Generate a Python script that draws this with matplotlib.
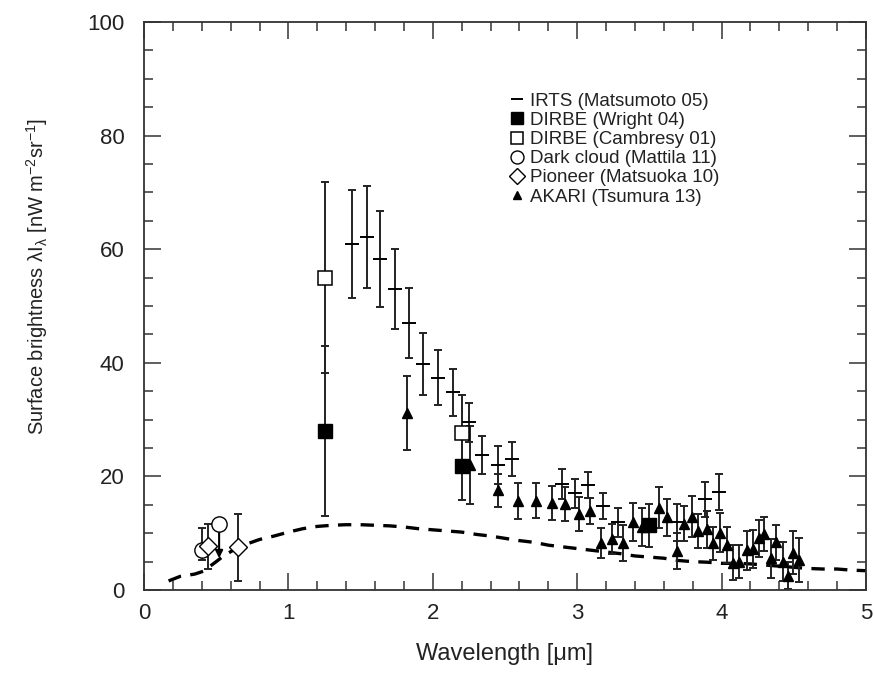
import numpy as np
import matplotlib
matplotlib.use("Agg")
import matplotlib.pyplot as plt

plt.rcParams['font.family'] = ['Liberation Sans', 'DejaVu Sans']
plt.rcParams['mathtext.fontset'] = 'custom'
plt.rcParams['mathtext.rm'] = 'Liberation Sans'
plt.rcParams['mathtext.default'] = 'regular'

# model curve (dashed)
model_wl = [0.17, 0.25, 0.35, 0.41, 0.50, 0.55, 0.65, 0.70, 0.80, 0.90, 1.0, 1.1, 1.2, 1.3,
            1.4, 1.5, 1.6, 1.7, 1.8, 1.9, 2.0, 2.1, 2.2, 2.3, 2.4, 2.5, 2.6, 2.7, 2.8,
            2.9, 3.0, 3.1, 3.2, 3.3, 3.4, 3.5, 3.6, 3.7, 3.8, 3.9, 4.0, 4.1, 4.2, 4.3,
            4.4, 4.5, 4.6, 4.7, 4.8, 4.9, 5.0]
model_val = [1.6, 2.4, 2.8, 3.3, 5.0, 6.0, 7.5, 8.0, 8.9, 9.5, 10.2, 10.8, 11.2, 11.4,
             11.5, 11.5, 11.4, 11.3, 11.1, 10.8, 10.6, 10.4, 10.2, 9.8, 9.5, 9.1, 8.7, 8.4, 7.9,
             7.6, 7.3, 7.0, 6.7, 6.4, 6.0, 5.8, 5.6, 5.2, 5.0, 4.9, 4.7, 4.7, 4.6, 4.4,
             4.2, 4.0, 3.8, 3.7, 3.7, 3.5, 3.4]

# IRTS (Matsumoto 05)
irts_wl = [1.438, 1.542, 1.637, 1.741, 1.838, 1.932, 2.038, 2.142, 2.253, 2.343, 2.449, 2.546,
           2.893, 2.985, 3.073, 3.176, 3.28, 3.689, 3.885, 3.984]
irts_val = [61.0, 62.2, 58.3, 53.0, 47.0, 39.8, 37.4, 34.8, 29.5, 23.8, 22.0, 23.1,
            18.7, 17.0, 18.5, 14.8, 11.9, 11.9, 16.0, 17.3]
irts_err = [9.5, 9.0, 8.5, 7.1, 6.1, 5.4, 4.8, 4.2, 3.5, 3.4, 3.4, 3.0,
            2.65, 2.6, 2.3, 2.3, 2.6, 3.2, 3.1, 3.2]

# DIRBE (Wright 04)
wright_wl = [1.25, 2.2, 3.5]
wright_val = [28.0, 21.8, 11.4]
wright_err = [15.0, 6.0, 3.8]

# DIRBE (Cambresy 01)
camb_wl = [1.25, 2.2]
camb_val = [55.0, 27.7]
camb_err = [16.8, 6.6]

# Dark cloud (Mattila 11)
dc_wl = [0.40]
dc_val = [7.0]
dc_lo = [1.8]
dc_hi = [3.9]
dc_lim_wl = [0.52]
dc_lim_val = [11.7]
dc_lim_to = [5.6]

# Pioneer (Matsuoka 10)
pio_wl = [0.44, 0.653]
pio_val = [7.7, 7.5]
pio_err = [4.0, 5.9]

# AKARI (Tsumura 13)
akari_wl = [1.82, 2.26, 2.449, 2.592, 2.717, 2.823, 2.917, 3.015, 3.089, 3.168, 3.243, 3.32,
            3.389, 3.452, 3.569, 3.624, 3.689, 3.742, 3.793, 3.839, 3.897, 3.943, 3.989,
            4.035, 4.081, 4.12, 4.174, 4.215, 4.261, 4.296, 4.342, 4.38, 4.423, 4.462,
            4.497, 4.538]
akari_val = [31.1, 22.0, 17.6, 15.7, 15.7, 15.4, 15.1, 13.4, 13.9, 8.3, 9.0, 8.3,
             12.0, 11.1, 14.5, 12.8, 6.9, 11.7, 12.9, 10.4, 10.7, 8.2, 10.1,
             7.9, 4.8, 5.0, 7.0, 7.2, 9.1, 9.9, 5.6, 8.4, 5.0, 2.5,
             6.6, 5.3]
akari_err = [6.5, 6.8, 2.9, 3.2, 3.1, 3.0, 3.0, 3.0, 2.3, 2.6, 2.7, 3.2,
             3.4, 3.4, 3.6, 3.3, 3.2, 3.1, 3.6, 3.0, 3.3, 2.9, 3.4,
             3.2, 3.1, 2.9, 3.4, 3.3, 3.2, 3.0, 3.4, 3.1, 3.4, 2.4,
             3.8, 3.9]

ecol = '#222222'
fig = plt.figure(figsize=(8.74, 7.0), dpi=100)
ax = fig.add_axes([0.1648, 0.1571, 0.826, 0.8114])

ax.plot(model_wl, model_val, color='black', lw=2.4, ls=(0, (4.0, 2.8)), zorder=1)

eb = dict(fmt='none', ecolor=ecol, elinewidth=1.4, capsize=3, capthick=1.4, zorder=2)
ax.errorbar(irts_wl, irts_val, yerr=irts_err, **eb)
ax.errorbar(akari_wl, akari_val, yerr=akari_err, **eb)
ax.errorbar(wright_wl, wright_val, yerr=wright_err, **eb)
ax.errorbar(camb_wl, camb_val, yerr=camb_err, **eb)
ax.errorbar(dc_wl, dc_val, yerr=[dc_lo, dc_hi], **eb)
ax.errorbar(pio_wl, pio_val, yerr=pio_err, **eb)
for x, y, y2 in zip(dc_lim_wl, dc_lim_val, dc_lim_to):
    ax.annotate('', xy=(x, y2), xytext=(x, y),
                arrowprops=dict(arrowstyle='-|>', color='black', lw=1.5,
                                mutation_scale=11, shrinkA=0, shrinkB=0), zorder=2)

ax.plot(irts_wl, irts_val, ls='none', marker='_', ms=10, mew=1.4, color='black',
        label='IRTS (Matsumoto 05)', zorder=3)
ax.plot(wright_wl, wright_val, ls='none', marker='s', ms=10, color='black',
        label='DIRBE (Wright 04)', zorder=4)
ax.plot(camb_wl, camb_val, ls='none', marker='s', ms=10, mfc='white', mec='black', mew=1.1,
        label='DIRBE (Cambresy 01)', zorder=4)
ax.plot(dc_wl + dc_lim_wl, dc_val + dc_lim_val, ls='none', marker='o', ms=11, mfc='white',
        mec='black', mew=1.0, label='Dark cloud (Mattila 11)', zorder=4)
ax.plot(pio_wl, pio_val, ls='none', marker='D', ms=9, mfc='white', mec='black', mew=1.0,
        label='Pioneer (Matsuoka 10)', zorder=5)
ax.plot(akari_wl, akari_val, ls='none', marker='^', ms=7, color='black',
        label='AKARI (Tsumura 13)', zorder=4)

ax.set_xlim(0, 5)
ax.set_ylim(0, 100)
ax.set_xticks(np.arange(0, 5.01, 1))
ax.set_xticks(np.arange(0, 5.01, 0.2), minor=True)
ax.set_yticks(np.arange(0, 101, 20))
ax.set_yticks(np.arange(0, 101, 5), minor=True)
ax.tick_params(which='both', direction='in', top=True, right=True, color='#333333',
               width=1.1, labelsize=16, labelcolor='#222222')
ax.tick_params(which='major', length=12)
ax.tick_params(which='minor', length=6.5)
ax.tick_params(axis='x', which='major', pad=9)
ax.tick_params(axis='y', which='major', pad=14)
for s in ax.spines.values():
    s.set_color('#333333')
    s.set_linewidth(1.3)

ax.set_xlabel('Wavelength [μm]', fontsize=17, color='#222222', labelpad=14)
ax.set_ylabel('Surface brightness λI$_{λ}$ [nW m$^{-2}$sr$^{-1}$]', fontsize=14.5,
              color='#222222')
ax.yaxis.set_label_coords(-0.13, 0.553)

leg = ax.legend(loc='upper left', bbox_to_anchor=(0.504, 0.8755), frameon=False,
                fontsize=13.5, handlelength=1.0, handletextpad=0.19, labelspacing=0.107,
                borderpad=0, borderaxespad=0, numpoints=1, markerscale=0.85)
for t in leg.get_texts():
    t.set_color('#222222')

fig.savefig('out.png', dpi=100)
